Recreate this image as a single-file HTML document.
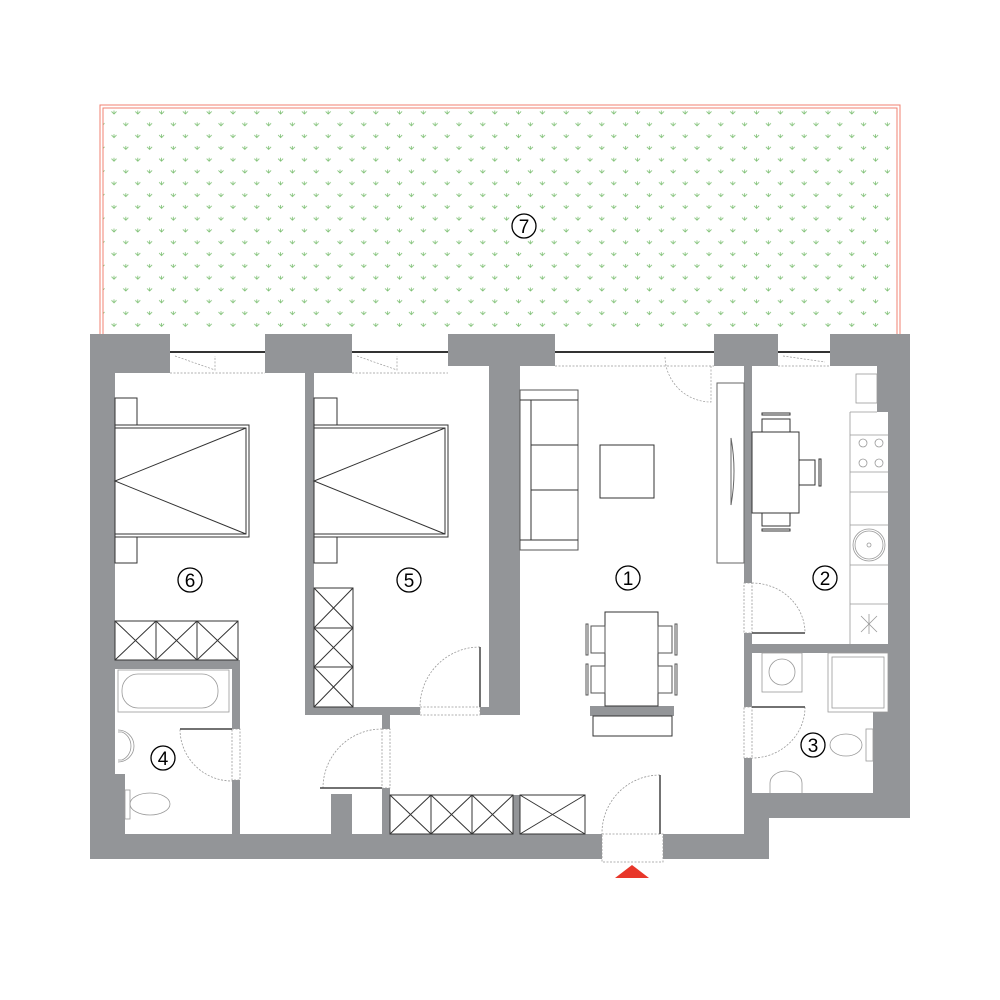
<!DOCTYPE html>
<html><head><meta charset="utf-8"><style>
html,body{margin:0;padding:0;background:#fff;}
svg{display:block;}
text{font-family:"Liberation Sans",sans-serif;font-size:19px;fill:#000;text-anchor:middle;}
</style></head><body>
<svg width="1000" height="1000" viewBox="0 0 1000 1000" xmlns="http://www.w3.org/2000/svg">
<defs>
<pattern id="grass" x="102" y="113" width="23.8" height="23.6" patternUnits="userSpaceOnUse">
 <g stroke="#7cbf72" stroke-width="0.8" fill="none">
  <path d="M9.5,-1.5 L12,1 L14.5,-1.5 M12,1 V-2.5"/>
  <path d="M-2.5,10.3 L0,12.8 L2.5,10.3 M0,12.8 V9.3"/>
  <path d="M21.3,10.3 L23.8,12.8 L26.3,10.3 M23.8,12.8 V9.3"/>
  <path d="M9.5,22.1 L12,24.6 L14.5,22.1 M12,24.6 V21.1"/>
 </g>
</pattern>
</defs>
<rect x="103" y="108" width="794" height="226" fill="url(#grass)"/>
<path d="M100,334 V105 H900 V334 M103,334 V108 H897 V334" stroke="#f08070" stroke-width="1" fill="none"/>
<circle cx="524" cy="226" r="12" fill="#fff" stroke="#000" stroke-width="1.3"/><text x="524" y="233">7</text>

<g stroke="#333" stroke-width="1">
 <line x1="170" y1="352" x2="265" y2="352" stroke-width="2"/>
 <line x1="352" y1="352" x2="448" y2="352" stroke-width="2"/>
 <line x1="555" y1="352" x2="714" y2="352" stroke-width="2"/>
 <line x1="778" y1="352" x2="830" y2="352" stroke-width="2"/>
</g>
<g stroke="#999" stroke-width="0.7" fill="none" stroke-dasharray="2,1.5">
 <line x1="170" y1="373" x2="265" y2="373"/><line x1="352" y1="373" x2="448" y2="373"/>
 <line x1="555" y1="366" x2="714" y2="366"/><line x1="778" y1="366" x2="830" y2="366"/>
 <path d="M175,356 L215,370 L215,356"/><path d="M357,356 L397,370 L397,356"/>
 <path d="M711,366 V402 A46,46 0 0 1 665,356"/><path d="M783,356 L825,362"/>
</g>

<g fill="#939598">
 <rect x="90" y="334" width="80" height="39"/>
 <rect x="265" y="334" width="87" height="39"/>
 <rect x="448" y="334" width="107" height="32"/>
 <rect x="714" y="334" width="64" height="32"/>
 <rect x="830" y="334" width="80" height="32"/>
 <rect x="90" y="334" width="25" height="525"/>
 <rect x="115" y="774" width="10" height="60"/>
 <rect x="305" y="366" width="9" height="349"/>
 <rect x="489" y="366" width="31" height="349"/>
 <rect x="305" y="707" width="115" height="8"/>
 <rect x="480" y="707" width="40" height="8"/>
 <rect x="115" y="660" width="125" height="9"/>
 <rect x="232" y="660" width="8" height="69"/>
 <rect x="232" y="780" width="8" height="54"/>
 <rect x="382" y="715" width="8" height="14"/>
 <rect x="382" y="788" width="8" height="46"/>
 <rect x="331" y="794" width="21" height="40"/>
 <rect x="513" y="795" width="7" height="39"/>
 <rect x="90" y="834" width="512" height="25"/>
 <rect x="663" y="834" width="106" height="25"/>
 <rect x="744" y="366" width="8" height="217"/>
 <rect x="744" y="633" width="8" height="74"/>
 <rect x="744" y="758" width="8" height="76"/>
 <rect x="744" y="793" width="25" height="66"/>
 <rect x="744" y="793" width="166" height="25"/>
 <rect x="752" y="644" width="136" height="9"/>
 <rect x="888" y="366" width="22" height="452"/>
 <rect x="877" y="366" width="11" height="46"/>
 <rect x="873" y="712" width="15" height="81"/>
 <rect x="590" y="706" width="84" height="10"/>
</g>

<g fill="none" stroke="#333" stroke-width="1">
 <rect x="115" y="398" width="22" height="27"/><rect x="115" y="537" width="22" height="26"/>
 <rect x="115" y="425" width="134" height="112"/><rect x="115" y="428" width="131" height="106"/>
 <path d="M246,428 L115,481 L246,534"/>
 <rect x="115" y="621" width="123" height="39"/>
 <path d="M156,621 V660 M197,621 V660 M115,621 L156,660 M156,621 L115,660 M156,621 L197,660 M197,621 L156,660 M197,621 L238,660 M238,621 L197,660"/>
 <rect x="314" y="398" width="23" height="27"/><rect x="314" y="537" width="23" height="26"/>
 <rect x="314" y="425" width="134" height="112"/><rect x="314" y="428" width="131" height="106"/>
 <path d="M445,428 L314,481 L445,534"/>
 <rect x="314" y="588" width="39" height="119"/>
 <path d="M314,628 H353 M314,667 H353 M314,588 L353,628 M353,588 L314,628 M314,628 L353,667 M353,628 L314,667 M314,667 L353,707 M353,667 L314,707"/>
 <rect x="390" y="795" width="123" height="39"/>
 <path d="M431,795 V834 M472,795 V834 M390,795 L431,834 M431,795 L390,834 M431,795 L472,834 M472,795 L431,834 M472,795 L513,834 M513,795 L472,834"/>
 <rect x="520" y="795" width="65" height="39"/>
 <path d="M520,795 L585,834 M585,795 L520,834"/>
 <rect x="520" y="390" width="58" height="160" stroke="#555"/>
 <path d="M520,400 H578 M520,540 H578 M531,400 V540 M531,445 H578 M531,490 H578"/>
 <rect x="600" y="445" width="54" height="53"/>
 <rect x="717" y="383" width="27" height="180" stroke="#666"/>
 <path d="M731,438 Q737,471 731,505 Z" stroke="#666"/>
 <rect x="605" y="612" width="53" height="94"/>
 <rect x="593" y="716" width="79" height="20"/>
 <g stroke="#555"><rect x="658" y="626" width="14" height="27"/><rect x="658" y="666" width="14" height="27"/>
 <rect x="591" y="626" width="14" height="27"/><rect x="591" y="666" width="14" height="27"/>
 <rect x="675" y="624" width="2" height="31"/><rect x="675" y="664" width="2" height="31"/>
 <rect x="586" y="624" width="2" height="31"/><rect x="586" y="664" width="2" height="31"/></g>
 <rect x="752" y="432" width="47" height="81"/>
 <rect x="762" y="419" width="28" height="13"/><rect x="762" y="513" width="28" height="13"/>
 <rect x="799" y="460" width="16" height="25"/>
 <rect x="762" y="413" width="28" height="2"/><rect x="762" y="529" width="28" height="2"/><rect x="819" y="459" width="2" height="27"/>
</g>
<g fill="none" stroke="#999" stroke-width="0.8">
 <path d="M850,412 V644 M850,412 H877 M850,435 H888 M850,472 H888 M850,492 H888 M850,525 H888 M850,565 H888 M850,604 H888"/>
 <rect x="856" y="374" width="21" height="29"/>
 <circle cx="869" cy="545" r="16"/><circle cx="869" cy="545" r="14"/><circle cx="869" cy="545" r="2"/>
 <path d="M861,616 L877,632 M877,616 L861,632 M869,614 V634"/>
 <circle cx="863" cy="443" r="4"/><circle cx="879" cy="443" r="4"/><circle cx="863" cy="463" r="4"/><circle cx="879" cy="463" r="4"/>
 <rect x="762" y="653" width="40" height="39"/><circle cx="782" cy="672" r="13"/>
 <rect x="828" y="653" width="60" height="59"/><rect x="832" y="657" width="52" height="51"/>
 <ellipse cx="846" cy="745" rx="16" ry="11"/><rect x="866" y="729" width="7" height="32"/>
 <path d="M770,793 V783 A16,12 0 0 1 802,783 V793"/>
 <rect x="118" y="670" width="111" height="42"/><rect x="122" y="674" width="96" height="34" rx="16"/>
 <path d="M118,730 A16,16 0 0 1 118,762"/><path d="M118,732 H122 A14,15 0 0 1 122,760 H118"/>
 <ellipse cx="150" cy="804" rx="20" ry="11"/><rect x="125" y="790" width="5" height="29"/>
</g>

<g fill="none" stroke="#999" stroke-width="0.8" stroke-dasharray="2,1.5">
 <path d="M480,647 A60,60 0 0 0 420,707"/>
 <path d="M232,729 L180,729 A52,52 0 0 0 232,781"/>
 <path d="M382,729 A59,59 0 0 0 323,788"/>
 <path d="M660,775 A58,58 0 0 0 602,834"/>
 <path d="M752,583 A53,50 0 0 1 805,633"/>
 <path d="M805,707 A53,51 0 0 1 752,758"/>
 <rect x="602" y="834" width="61" height="28"/>
 <rect x="420" y="707" width="60" height="8"/>
 <rect x="232" y="729" width="8" height="51"/>
 <rect x="382" y="729" width="8" height="59"/>
 <rect x="744" y="583" width="8" height="50"/>
 <rect x="744" y="707" width="8" height="51"/>
</g>
<g stroke="#444" stroke-width="1.5" fill="none">
 <line x1="480" y1="647" x2="480" y2="707"/>
 <line x1="180" y1="729" x2="232" y2="729"/>
 <line x1="320" y1="788" x2="382" y2="788"/>
 <line x1="660" y1="775" x2="660" y2="834"/>
 <line x1="752" y1="633" x2="805" y2="633"/>
 <line x1="752" y1="707" x2="805" y2="707"/>
</g>

<polygon points="615,878 632,865 649,878" fill="#e8372a"/>

<g fill="#fff" stroke="#000" stroke-width="1.3">
 <circle cx="190" cy="580" r="12"/><circle cx="409" cy="580" r="12"/>
 <circle cx="628" cy="578" r="12"/><circle cx="825" cy="578" r="12"/>
 <circle cx="813" cy="745" r="12"/><circle cx="163" cy="758" r="12"/>
</g>
<text x="190" y="587">6</text><text x="409" y="587">5</text><text x="628" y="585">1</text>
<text x="825" y="585">2</text><text x="813" y="752">3</text><text x="163" y="765">4</text>
</svg>
</body></html>
